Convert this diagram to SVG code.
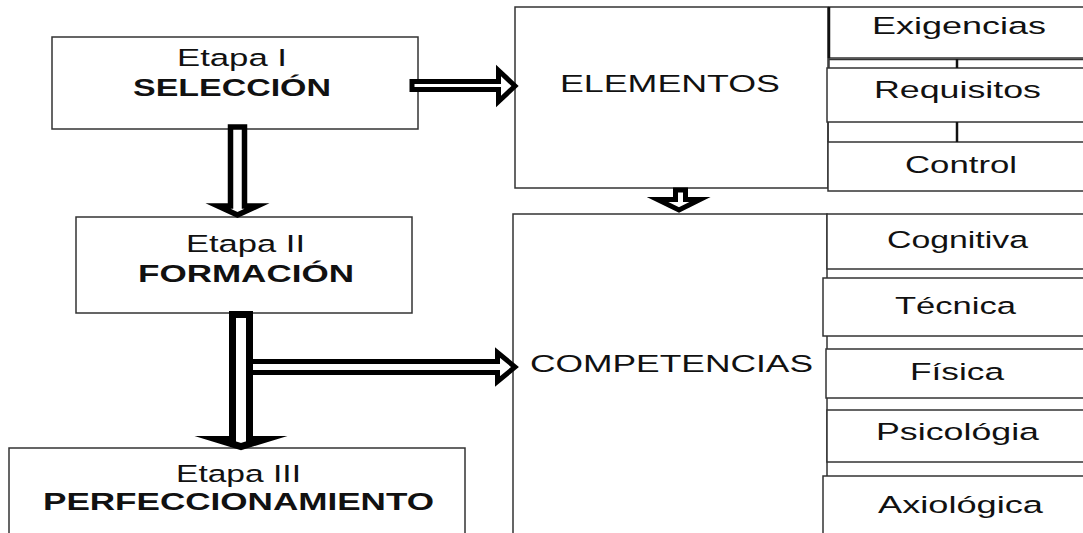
<svg xmlns="http://www.w3.org/2000/svg" width="1083" height="533" viewBox="0 0 1083 533">
<style>
.box{fill:#fff;stroke:#333;stroke-width:1.5}
.ln{stroke:#333;stroke-width:1.5;fill:none}
.tick{stroke:#111;stroke-width:2.5;fill:none}
.t{font-family:"Liberation Sans",Arial,sans-serif;font-size:24.5px;fill:#111;text-anchor:middle}
.b{font-weight:bold}
.arr{fill:#fff;stroke:#000;stroke-linejoin:miter;stroke-miterlimit:10}
</style>
<rect width="1083" height="533" fill="#fff"/>
<g id="etapa1">
<rect class="box" x="52" y="37" width="366" height="92"/>
<text class="t" x="232" y="66" textLength="110" lengthAdjust="spacingAndGlyphs">Etapa I</text>
<text class="t b" x="232" y="96" textLength="198" lengthAdjust="spacingAndGlyphs">SELECCIÓN</text>
</g>
<g id="etapa2">
<rect class="box" x="76" y="217" width="336" height="96"/>
<text class="t" x="245.5" y="252" textLength="119" lengthAdjust="spacingAndGlyphs">Etapa II</text>
<text class="t b" x="246" y="282" textLength="216" lengthAdjust="spacingAndGlyphs">FORMACIÓN</text>
</g>
<g id="etapa3">
<rect class="box" x="9" y="448" width="456" height="100"/>
<text class="t" x="238.5" y="482" textLength="125" lengthAdjust="spacingAndGlyphs">Etapa III</text>
<text class="t b" x="238.5" y="510" textLength="391" lengthAdjust="spacingAndGlyphs">PERFECCIONAMIENTO</text>
</g>
<g id="elementos">
<rect class="box" x="515" y="7" width="313" height="181"/>
<text class="t" x="670" y="92" textLength="220" lengthAdjust="spacingAndGlyphs">ELEMENTOS</text>
</g>
<g id="exigencias">
<rect class="box" x="829" y="7" width="260" height="51"/>
<line class="tick" x1="829" y1="7" x2="829" y2="58"/>
<text class="t" x="959" y="34" textLength="174" lengthAdjust="spacingAndGlyphs">Exigencias</text>
</g>
<g id="requisitos">
<rect class="box" x="827" y="68" width="260" height="54"/>
<text class="t" x="957.5" y="98" textLength="167" lengthAdjust="spacingAndGlyphs">Requisitos</text>
</g>
<g id="control">
<rect class="box" x="828" y="142" width="260" height="49"/>
<text class="t" x="961" y="173" textLength="112" lengthAdjust="spacingAndGlyphs">Control</text>
</g>
<g id="competencias">
<rect class="box" x="513" y="214" width="314" height="330"/>
<text class="t" x="671.5" y="372" textLength="283" lengthAdjust="spacingAndGlyphs">COMPETENCIAS</text>
</g>
<g id="cognitiva">
<rect class="box" x="827" y="214" width="260" height="55"/>
<text class="t" x="957.5" y="248" textLength="141" lengthAdjust="spacingAndGlyphs">Cognitiva</text>
</g>
<g id="tecnica">
<rect class="box" x="823" y="278" width="264" height="58"/>
<text class="t" x="955.5" y="314" textLength="121" lengthAdjust="spacingAndGlyphs">Técnica</text>
</g>
<g id="fisica">
<rect class="box" x="826" y="349" width="260" height="49"/>
<text class="t" x="957" y="380" textLength="94" lengthAdjust="spacingAndGlyphs">Física</text>
</g>
<g id="psicologia">
<rect class="box" x="827" y="410" width="260" height="52"/>
<text class="t" x="957.5" y="440" textLength="163" lengthAdjust="spacingAndGlyphs">Psicológia</text>
</g>
<g id="axiologica">
<rect class="box" x="823" y="476" width="264" height="70"/>
<text class="t" x="960.5" y="513" textLength="165" lengthAdjust="spacingAndGlyphs">Axiológica</text>
</g>
<g id="connectors">
<line class="ln" x1="829" y1="59.5" x2="1083" y2="59.5"/>
<line class="ln" x1="829" y1="58" x2="829" y2="68"/>
<line class="tick" x1="957" y1="59" x2="957" y2="68"/>
<line class="ln" x1="828" y1="122" x2="828" y2="142"/>
<line class="tick" x1="957" y1="122" x2="957" y2="142"/>
<polygon class="arr" stroke-width="5" points="412,81.5 498.5,81.5 498.5,70.5 515,86 498.5,101.5 498.5,89.5 412,89.5"/>
<polygon class="arr" stroke-width="5.5" points="230.5,127 244.5,127 244.5,206 257,206 237.5,215 218,206 230.5,206"/>
<polygon class="arr" stroke-width="5" points="675.5,190 685.5,190 685.5,199.5 700,199.5 679,210 657.5,199.5 675.5,199.5"/>
<polygon class="arr" stroke-width="5" points="248,361.5 497.5,361.5 497.5,352.5 515,367 497.5,381.5 497.5,372.5 248,372.5"/>
<polygon class="arr" stroke-width="7" points="232.5,314.5 249.5,314.5 249.5,439.5 264,439.5 241,446.5 218,439.5 232.5,439.5"/>
</g>
</svg>
